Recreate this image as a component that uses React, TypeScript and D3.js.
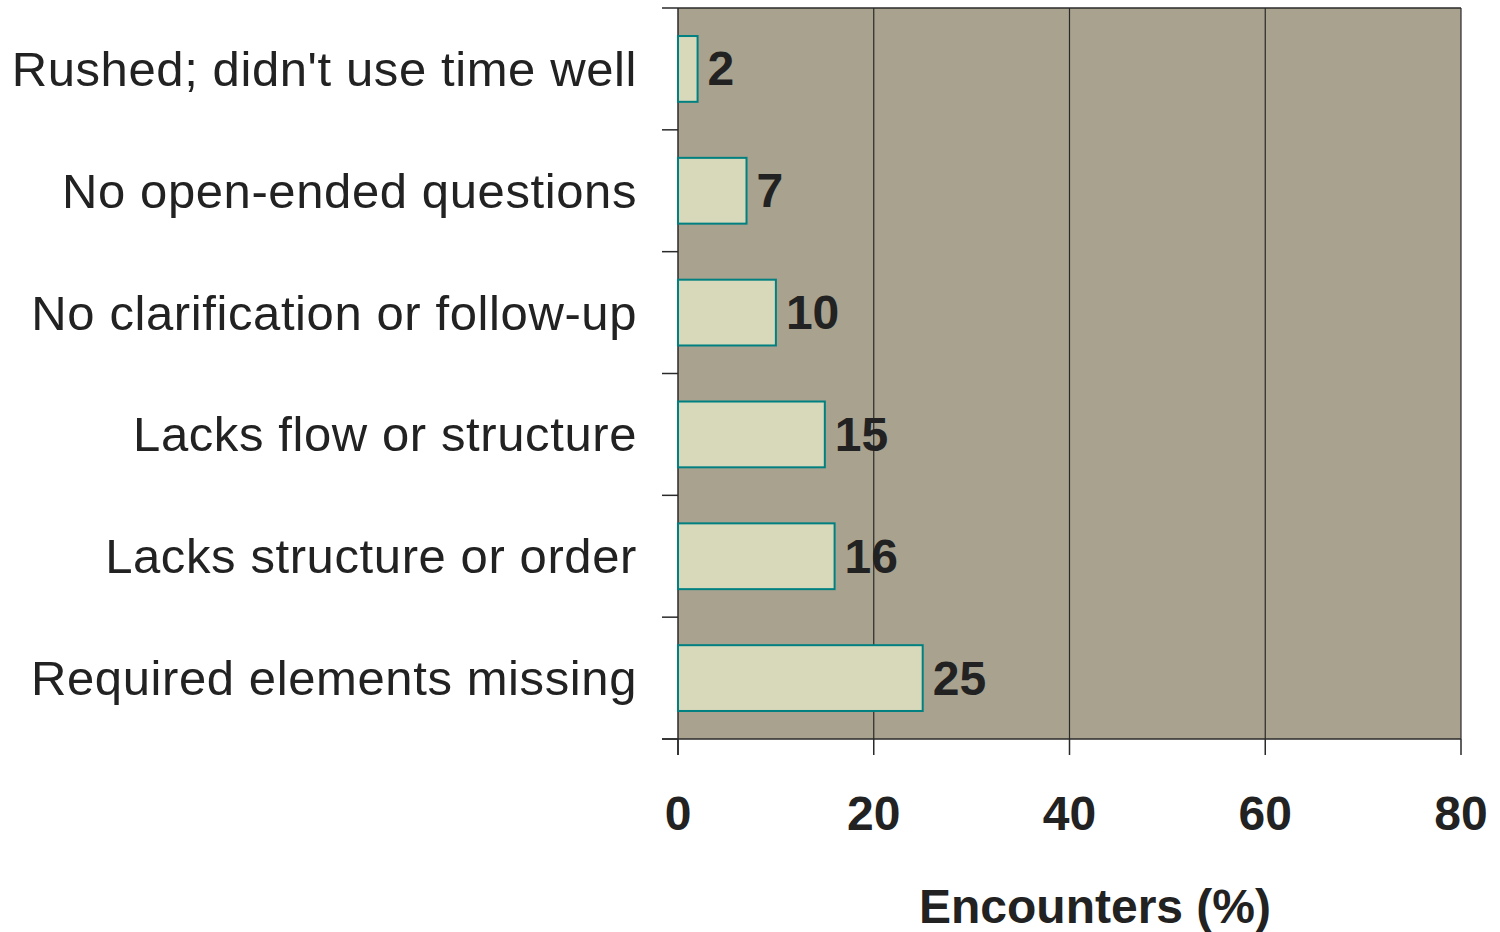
import React from 'react';
import * as d3 from 'd3';

const categories = [
  "Rushed; didn't use time well",
  'No open-ended questions',
  'No clarification or follow-up',
  'Lacks flow or structure',
  'Lacks structure or order',
  'Required elements missing',
];
const values = [2, 7, 10, 15, 16, 25];
const xTicks = [0, 20, 40, 60, 80];

export default function App() {
  const width = 1500, height = 932;
  const left = 678, right = 1461, top = 8, bottom = 739;
  const x = d3.scaleLinear().domain([0, 80]).range([left, right]);
  const y = d3.scaleBand().domain(categories).range([top, bottom]).paddingInner(0.46).paddingOuter(0.23);
  const band = d3.scaleBand().domain(categories).range([top, bottom]);
  const font = '"Liberation Sans", Arial, sans-serif';

  return (
    <svg width={width} height={height} style={{ position: 'absolute', left: 0, top: 0 }} fontFamily={font}>
      <rect x={left} y={top} width={right - left} height={bottom - top} fill="#a9a28f" />
      {xTicks.slice(1).map(t => (
        <line key={t} x1={x(t)} x2={x(t)} y1={top} y2={bottom} stroke="#2a2a2a" strokeWidth={1.2} />
      ))}
      <line x1={left - 16} x2={right} y1={top} y2={top} stroke="#2a2a2a" strokeWidth={1.5} />
      {/* left axis */}
      <line x1={left} x2={left} y1={top} y2={bottom + 16} stroke="#2a2a2a" strokeWidth={1.5} />
      {categories.map(c => (
        <line key={c} x1={left - 16} x2={left} y1={(band(c) ?? 0) + band.bandwidth()} y2={(band(c) ?? 0) + band.bandwidth()} stroke="#2a2a2a" strokeWidth={1.5} />
      ))}
      {/* bottom axis */}
      <line x1={left - 16} x2={right} y1={bottom} y2={bottom} stroke="#2a2a2a" strokeWidth={1.5} />
      {xTicks.map(t => (
        <g key={t}>
          <line x1={x(t)} x2={x(t)} y1={bottom} y2={bottom + 16} stroke="#2a2a2a" strokeWidth={1.5} />
          <text x={x(t)} y={813} textAnchor="middle" dominantBaseline="central" fontSize={48} fontWeight="bold" fill="#222">{t}</text>
        </g>
      ))}
      {categories.map((c, i) => {
        const yc = (y(c) ?? 0) + y.bandwidth() / 2;
        return (
          <g key={c}>
            <rect x={x(0)} y={y(c)} width={x(values[i]) - x(0)} height={y.bandwidth()} fill="#d8d9bb" stroke="#008080" strokeWidth={2} />
            <text x={x(values[i]) + 10} y={yc} dominantBaseline="central" fontSize={48} fontWeight="bold" fill="#222">{values[i]}</text>
            <text x={637} y={yc} textAnchor="end" dominantBaseline="central" fontSize={49} letterSpacing={0.6} fill="#222">{c}</text>
          </g>
        );
      })}
      <text x={1095} y={906} textAnchor="middle" dominantBaseline="central" fontSize={48} fontWeight="bold" fill="#222">Encounters (%)</text>
    </svg>
  );
}
